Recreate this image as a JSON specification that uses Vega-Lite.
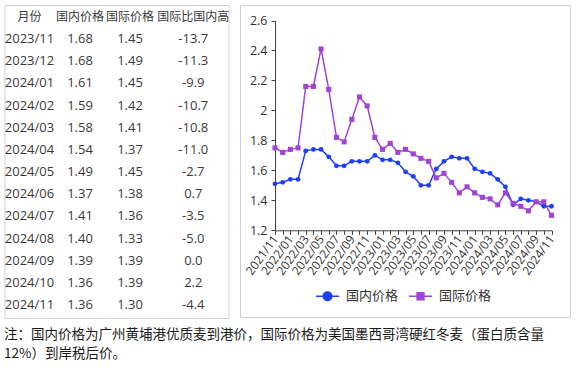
{
  "$schema": "https://vega.github.io/schema/vega-lite/v6.json",
  "background": "white",
  "padding": {"left": 3.5, "top": 4, "right": 0, "bottom": 0},
  "datasets": {
    "table": [
      {"r": 0, "c": 0, "t": "月份"}, {"r": 0, "c": 1, "t": "国内价格"}, {"r": 0, "c": 2, "t": "国际价格"}, {"r": 0, "c": 3, "t": "国际比国内高"},
      {"r": 1, "c": 0, "t": "2023/11"}, {"r": 1, "c": 1, "t": "1.68"}, {"r": 1, "c": 2, "t": "1.45"}, {"r": 1, "c": 3, "t": "-13.7"},
      {"r": 2, "c": 0, "t": "2023/12"}, {"r": 2, "c": 1, "t": "1.68"}, {"r": 2, "c": 2, "t": "1.49"}, {"r": 2, "c": 3, "t": "-11.3"},
      {"r": 3, "c": 0, "t": "2024/01"}, {"r": 3, "c": 1, "t": "1.61"}, {"r": 3, "c": 2, "t": "1.45"}, {"r": 3, "c": 3, "t": "-9.9"},
      {"r": 4, "c": 0, "t": "2024/02"}, {"r": 4, "c": 1, "t": "1.59"}, {"r": 4, "c": 2, "t": "1.42"}, {"r": 4, "c": 3, "t": "-10.7"},
      {"r": 5, "c": 0, "t": "2024/03"}, {"r": 5, "c": 1, "t": "1.58"}, {"r": 5, "c": 2, "t": "1.41"}, {"r": 5, "c": 3, "t": "-10.8"},
      {"r": 6, "c": 0, "t": "2024/04"}, {"r": 6, "c": 1, "t": "1.54"}, {"r": 6, "c": 2, "t": "1.37"}, {"r": 6, "c": 3, "t": "-11.0"},
      {"r": 7, "c": 0, "t": "2024/05"}, {"r": 7, "c": 1, "t": "1.49"}, {"r": 7, "c": 2, "t": "1.45"}, {"r": 7, "c": 3, "t": "-2.7"},
      {"r": 8, "c": 0, "t": "2024/06"}, {"r": 8, "c": 1, "t": "1.37"}, {"r": 8, "c": 2, "t": "1.38"}, {"r": 8, "c": 3, "t": "0.7"},
      {"r": 9, "c": 0, "t": "2024/07"}, {"r": 9, "c": 1, "t": "1.41"}, {"r": 9, "c": 2, "t": "1.36"}, {"r": 9, "c": 3, "t": "-3.5"},
      {"r": 10, "c": 0, "t": "2024/08"}, {"r": 10, "c": 1, "t": "1.40"}, {"r": 10, "c": 2, "t": "1.33"}, {"r": 10, "c": 3, "t": "-5.0"},
      {"r": 11, "c": 0, "t": "2024/09"}, {"r": 11, "c": 1, "t": "1.39"}, {"r": 11, "c": 2, "t": "1.39"}, {"r": 11, "c": 3, "t": "0.0"},
      {"r": 12, "c": 0, "t": "2024/10"}, {"r": 12, "c": 1, "t": "1.36"}, {"r": 12, "c": 2, "t": "1.39"}, {"r": 12, "c": 3, "t": "2.2"},
      {"r": 13, "c": 0, "t": "2024/11"}, {"r": 13, "c": 1, "t": "1.36"}, {"r": 13, "c": 2, "t": "1.30"}, {"r": 13, "c": 3, "t": "-4.4"}
    ],
    "prices": [
      {"month": "2021/11", "国内价格": 1.51, "国际价格": 1.75},
      {"month": "2021/12", "国内价格": 1.52, "国际价格": 1.72},
      {"month": "2022/01", "国内价格": 1.54, "国际价格": 1.74},
      {"month": "2022/02", "国内价格": 1.54, "国际价格": 1.75},
      {"month": "2022/03", "国内价格": 1.73, "国际价格": 2.16},
      {"month": "2022/04", "国内价格": 1.74, "国际价格": 2.16},
      {"month": "2022/05", "国内价格": 1.74, "国际价格": 2.41},
      {"month": "2022/06", "国内价格": 1.69, "国际价格": 2.14},
      {"month": "2022/07", "国内价格": 1.63, "国际价格": 1.82},
      {"month": "2022/08", "国内价格": 1.63, "国际价格": 1.79},
      {"month": "2022/09", "国内价格": 1.66, "国际价格": 1.94},
      {"month": "2022/10", "国内价格": 1.66, "国际价格": 2.09},
      {"month": "2022/11", "国内价格": 1.66, "国际价格": 2.03},
      {"month": "2022/12", "国内价格": 1.70, "国际价格": 1.82},
      {"month": "2023/01", "国内价格": 1.67, "国际价格": 1.74},
      {"month": "2023/02", "国内价格": 1.67, "国际价格": 1.78},
      {"month": "2023/03", "国内价格": 1.65, "国际价格": 1.72},
      {"month": "2023/04", "国内价格": 1.59, "国际价格": 1.74},
      {"month": "2023/05", "国内价格": 1.56, "国际价格": 1.71},
      {"month": "2023/06", "国内价格": 1.50, "国际价格": 1.68},
      {"month": "2023/07", "国内价格": 1.50, "国际价格": 1.66},
      {"month": "2023/08", "国内价格": 1.61, "国际价格": 1.55},
      {"month": "2023/09", "国内价格": 1.66, "国际价格": 1.58},
      {"month": "2023/10", "国内价格": 1.69, "国际价格": 1.52},
      {"month": "2023/11", "国内价格": 1.68, "国际价格": 1.45},
      {"month": "2023/12", "国内价格": 1.68, "国际价格": 1.49},
      {"month": "2024/01", "国内价格": 1.61, "国际价格": 1.45},
      {"month": "2024/02", "国内价格": 1.59, "国际价格": 1.42},
      {"month": "2024/03", "国内价格": 1.58, "国际价格": 1.41},
      {"month": "2024/04", "国内价格": 1.54, "国际价格": 1.37},
      {"month": "2024/05", "国内价格": 1.49, "国际价格": 1.45},
      {"month": "2024/06", "国内价格": 1.37, "国际价格": 1.38},
      {"month": "2024/07", "国内价格": 1.41, "国际价格": 1.36},
      {"month": "2024/08", "国内价格": 1.40, "国际价格": 1.33},
      {"month": "2024/09", "国内价格": 1.39, "国际价格": 1.39},
      {"month": "2024/10", "国内价格": 1.36, "国际价格": 1.39},
      {"month": "2024/11", "国内价格": 1.36, "国际价格": 1.30}
    ]
  },
  "title": {
    "text": ["注：国内价格为广州黄埔港优质麦到港价，国际价格为美国墨西哥湾硬红冬麦（蛋白质含量", "12%）到岸税后价。"],
    "orient": "bottom",
    "anchor": "start",
    "frame": "bounds",
    "offset": 9,
    "font": "Noto Sans CJK SC",
    "fontSize": 13.5,
    "fontWeight": "normal",
    "color": "#1a1a1a",
    "lineHeight": 19
  },
  "spacing": 8.5,
  "hconcat": [
    {
      "width": 224,
      "height": 313,
      "data": {"name": "table"},
      "mark": {"type": "text", "font": "Open Sans, Noto Sans CJK SC", "color": "#3a3a3a", "baseline": "middle", "align": "center"},
      "encoding": {
        "x": {"field": "c", "type": "quantitative", "scale": {"domain": [0, 1, 2, 3], "range": [25, 75.5, 125.5, 188.8], "zero": false, "nice": false}, "axis": null},
        "y": {"field": "r", "type": "ordinal", "scale": {"type": "point", "padding": 0.552, "align": 0.48}, "axis": null},
        "text": {"field": "t"},
        "size": {"condition": {"test": "datum.r === 0", "value": 12}, "value": 13}
      }
    },
    {
      "width": 330,
      "height": 312,
      "data": {"name": "prices"},
      "transform": [{"fold": ["国内价格", "国际价格"], "as": ["series", "price"]}],
      "encoding": {
        "x": {
          "field": "month", "type": "ordinal",
          "scale": {"type": "point", "range": [35, 311.5], "padding": 0},
          "axis": {
            "title": null, "offset": -86.7, "labelAngle": -54, "labelAlign": "right", "labelBaseline": "middle",
            "labelExpr": "toNumber(slice(datum.value, 5)) % 2 === 1 ? datum.value : ''",
            "labelOverlap": false, "labelFont": "Open Sans", "labelFontSize": 12, "labelColor": "#333333", "labelPadding": 2,
            "tickSize": 4, "tickColor": "#404040", "domainColor": "#404040", "grid": false
          }
        },
        "y": {
          "field": "price", "type": "quantitative",
          "scale": {"domain": [1.2, 2.6], "range": [225.3, 15.5], "zero": false, "nice": false},
          "axis": {
            "title": null, "offset": -35, "values": [1.2, 1.4, 1.6, 1.8, 2, 2.2, 2.4, 2.6], "format": "~g",
            "labelFont": "Open Sans", "labelFontSize": 12.5, "labelColor": "#333333", "labelPadding": 4,
            "tickSize": 4, "tickColor": "#404040", "domainColor": "#404040", "grid": false
          }
        },
        "color": {
          "field": "series", "type": "nominal",
          "scale": {"domain": ["国内价格", "国际价格"], "range": ["#1f3ff5", "#a044d6"]},
          "legend": {
            "title": null, "orient": "none", "legendX": 311.5, "legendY": 279.5, "direction": "horizontal",
            "padding": 0, "symbolSize": 529, "symbolStrokeWidth": 0, "symbolOpacity": 1, "labelOffset": 7, "columnPadding": 10,
            "labelFont": "Noto Sans CJK SC", "labelFontSize": 13, "labelColor": "#333333"
          }
        }
      },
      "layer": [
        {"mark": {"type": "line", "strokeWidth": 1.5}},
        {
          "transform": [{"filter": "datum.series === '国内价格'"}],
          "mark": {"type": "point", "shape": "circle", "filled": true, "size": 24, "opacity": 1}
        },
        {
          "transform": [{"filter": "datum.series === '国际价格'"}],
          "mark": {"type": "point", "shape": "square", "filled": true, "size": 26, "opacity": 1}
        },
        {
          "transform": [{"filter": "false"}],
          "mark": {"type": "point", "filled": true, "opacity": 1},
          "encoding": {
            "shape": {
              "field": "series", "type": "nominal",
              "scale": {
                "domain": ["国内价格", "国际价格"],
                "range": [
                  "M-1,-0.065H-0.42V0.065H-1Z M0.42,-0.065H1V0.065H0.42Z M0.435,0A0.435,0.435,0,1,1,-0.435,0A0.435,0.435,0,1,1,0.435,0Z",
                  "M-1,-0.065H-0.36V0.065H-1Z M0.36,-0.065H1V0.065H0.36Z M-0.36,-0.36H0.36V0.36H-0.36Z"
                ]
              },
              "legend": {
                "title": null, "orient": "none", "legendX": 311.5, "legendY": 279.5, "direction": "horizontal",
                "padding": 0, "symbolSize": 529, "symbolStrokeWidth": 0, "symbolOpacity": 1, "labelOffset": 7, "columnPadding": 10,
                "labelFont": "Noto Sans CJK SC", "labelFontSize": 13, "labelColor": "#333333"
              }
            }
          }
        }
      ]
    }
  ],
  "config": {
    "view": {"stroke": "#d0d0d0", "strokeWidth": 1},
    "font": "Noto Sans CJK SC"
  }
}
